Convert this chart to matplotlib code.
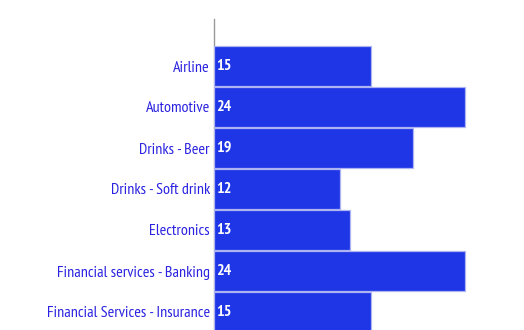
import matplotlib
matplotlib.use("Agg")
import matplotlib.pyplot as plt
from matplotlib import font_manager

categories = [
    "Airline",
    "Automotive",
    "Drinks - Beer",
    "Drinks - Soft drink",
    "Electronics",
    "Financial services - Banking",
    "Financial Services - Insurance",
]
values = [15, 24, 19, 12, 13, 24, 15]

installed = {f.name for f in font_manager.fontManager.ttflist}
if "PT Sans Narrow" in installed:
    font, label_size, value_size = "PT Sans Narrow", 11.5, 11.5
elif "PT Sans" in installed:
    font, label_size, value_size = "PT Sans", 9.3, 10.0
else:
    font, label_size, value_size = "Lato", 9.0, 10.0

W, H, DPI = 524, 330, 100
fig = plt.figure(figsize=(W / DPI, H / DPI), dpi=DPI)

# axes box in pixel terms: left edge at the value axis, runs to the right/bottom edges
x0, x1 = 214, 524
y_top, y_bot = 19, 330
ax = fig.add_axes([x0 / W, 1 - y_bot / H, (x1 - x0) / W, (y_bot - y_top) / H])

bar_color = "#1f36e6"
edge_color = "#aeb4f2"
label_color = "#2a22e0"

pitch = 41.0          # px per category
first_center = 66.0   # px from top of figure
px_per_unit = (465 - 214) / 24

ax.set_xlim(0, (x1 - x0) / px_per_unit)
ax.set_ylim((y_bot - first_center) / pitch, -(first_center - y_top) / pitch)

ypos = list(range(len(categories)))
ax.barh(ypos, values, height=0.985, color=bar_color, edgecolor=edge_color,
        linewidth=0.9, zorder=2)

for y, v in zip(ypos, values):
    ax.text(0.22, y, str(v), color="white", fontweight="bold", fontsize=value_size,
            family=font, va="center", ha="left", zorder=3)

ax.set_yticks(ypos)
ax.set_yticklabels(categories, family=font, fontsize=label_size, color=label_color)
ax.tick_params(axis="y", length=0, pad=3)
ax.set_xticks([])

for side in ["top", "right", "bottom"]:
    ax.spines[side].set_visible(False)
ax.spines["left"].set_color("#999999")
ax.spines["left"].set_linewidth(1)
ax.spines["left"].set_zorder(1)

fig.savefig("out.png", dpi=DPI)
